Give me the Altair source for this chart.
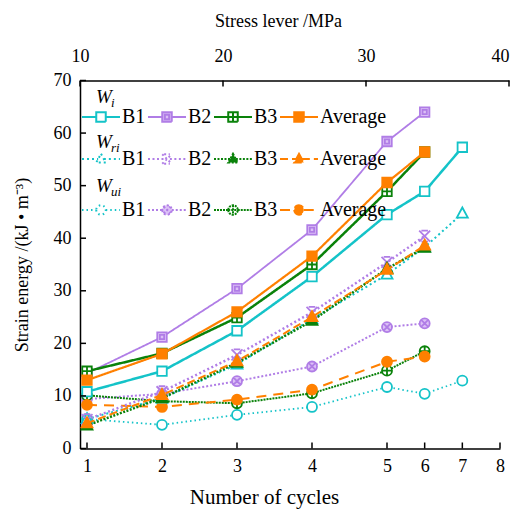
import altair as alt
import pandas as pd

# ---------------- data ----------------
cycles = [1, 2, 3, 4, 5, 6, 7]
series_names = ["B1", "B2", "B3", "Average"]

wi_b1 = [10.8, 14.7, 22.4, 32.7, 44.5, 48.9, 57.3]
wi_b2 = [14.3, 21.2, 30.4, 41.6, 58.4, 64.0]
wi_b3 = [14.7, 18.1, 24.9, 35.0, 48.9, 56.4]
wi_avg = [13.0, 18.0, 26.0, 36.6, 50.6, 56.4]

wri_b1 = [5.6, 9.5, 16.0, 24.6, 33.1, 38.3, 44.7]
wri_b2 = [5.5, 10.8, 17.8, 25.9, 35.4, 40.4]
wri_b3 = [4.4, 9.6, 16.3, 24.3, 34.2, 38.2]
wri_avg = [4.8, 10.2, 16.6, 25.0, 34.0, 38.6]

wui_b1 = [5.6, 4.5, 6.4, 7.9, 11.7, 10.4, 12.9]
wui_b2 = [9.4, 10.4, 12.8, 15.6, 23.1, 23.8]
wui_b3 = [10.1, 9.0, 8.6, 10.5, 14.8, 18.5]
wui_avg = [8.3, 7.9, 9.3, 11.2, 16.5, 17.5]

y_ticks = [0, 10, 20, 30, 40, 50, 60, 70]
x_ticks = [1, 2, 3, 4, 5, 6, 7, 8]
stress_ticks = [10, 20, 30, 40]

heading_main = ["W", "W", "W"]
heading_sub = ["i", "ri", "ui"]

# ---------------- styles ----------------
SERIF = "Liberation Serif, Times New Roman, Times, serif"
CYAN, LAV, GREEN, ORANGE = "#14C3C8", "#B07DE6", "#0A820A", "#FF8000"
LAV_LIGHT = "#DCC0F6"
colors = [CYAN, LAV, GREEN, ORANGE]


def n(v):
    return f"{round(v, 3):g}"


def sq(r):
    return f"M{n(-r)},{n(-r)}H{n(r)}V{n(r)}H{n(-r)}Z"


def plus(r):
    return f"M0,{n(-r)}V{n(r)}M{n(-r)},0H{n(r)}"


def cross(r):
    return f"M{n(-r)},{n(-r)}L{n(r)},{n(r)}M{n(-r)},{n(r)}L{n(r)},{n(-r)}"


def circ(r):
    return f"M{n(-r)},0A{n(r)},{n(r)} 0 1,0 {n(r)},0A{n(r)},{n(r)} 0 1,0 {n(-r)},0Z"


def tri(r):
    return f"M0,{n(-1.1 * r)}L{n(r)},{n(0.75 * r)}H{n(-r)}Z"


def xbar(r):
    return cross(r) + f"M{n(-0.6 * r)},{n(-r)}H{n(0.6 * r)}M{n(-0.6 * r)},{n(r)}H{n(0.6 * r)}"


markers = {
    "Wi": [lambda r: sq(r), lambda r: sq(r) + sq(0.45 * r), lambda r: sq(r) + plus(r), lambda r: sq(r)],
    "Wri": [lambda r: tri(r), lambda r: xbar(r), lambda r: tri(r), lambda r: tri(r)],
    "Wui": [lambda r: circ(r), lambda r: circ(r) + cross(0.7 * r), lambda r: circ(r) + plus(r), lambda r: circ(r)],
}
gaps = {"Wi": 1.0, "Wri": 0.6, "Wui": 1.0}
fills = {
    "Wi": ["white", LAV_LIGHT, "white", ORANGE],
    "Wri": ["white", LAV, GREEN, ORANGE],
    "Wui": ["white", LAV_LIGHT, "white", ORANGE],
}
dashes = {
    "Wi": [[1, 0], [1, 0], [1, 0], [1, 0]],
    "Wri": [[2, 3], [2, 2.5], [2, 1.5], [8, 4]],
    "Wui": [[1.5, 3], [2, 2], [2, 1], [10, 7]],
}
widths = {
    "Wi": [2.5, 1.8, 2.5, 2.2],
    "Wri": [2, 2.5, 2.5, 2],
    "Wui": [1.8, 2, 2, 2],
}
sizes = {"Wi": 90, "Wri": 120, "Wui": 100}

group_data = {
    "Wi": [wi_b1, wi_b2, wi_b3, wi_avg],
    "Wri": [wri_b1, wri_b2, wri_b3, wri_avg],
    "Wui": [wui_b1, wui_b2, wui_b3, wui_avg],
}
legend_y = {"Wi": 16.5, "Wri": 58.5, "Wui": 109.5}
heading_y = [22.5, 67.5, 111.5]

rows = []
for g, lists in group_data.items():
    for s, vals in zip(series_names, lists):
        for c, v in zip(cycles, vals):
            rows.append({"key": f"{g}|{s}", "cycle": c, "energy": v})
df = pd.DataFrame(rows)

W, H = 429, 368

xs = alt.Scale(domain=[0.9067, 5, 8], range=[0, 307, 420], nice=False, zero=False)
ys = alt.Scale(domain=[0, 70], nice=False, zero=False)

x_axis = alt.Axis(values=x_ticks, format="d", title="Number of cycles", labelPadding=9,
                  titlePadding=11, titleFontSize=21, titleX=184, titleAnchor="middle",
                  labelFlush=False, labelOverlap=False)
y_axis = alt.Axis(values=y_ticks, format="d", title="Strain energy /(kJ \u2022 m\u207b\u00b3)",
                  labelPadding=9, titlePadding=22, labelFlush=False, labelOverlap=False)

x_enc = alt.X("cycle:Q", scale=xs, axis=x_axis)
y_enc = alt.Y("energy:Q", scale=ys, axis=y_axis)

layers = []
order = ["Wui", "Wri", "Wi"]
for g in order:
    for i, s in enumerate(series_names):
        key = f"{g}|{s}"
        base = alt.Chart(df).transform_filter(alt.datum.key == key)
        layers.append(
            base.mark_line(color=colors[i], strokeWidth=widths[g][i], strokeDash=dashes[g][i])
            .encode(x=x_enc, y=y_enc)
        )
        layers.append(
            base.mark_point(shape=markers[g][i](1), size=sizes[g], filled=True, fill=fills[g][i],
                            stroke=colors[i], strokeWidth=1.8, opacity=1)
            .encode(x=x_enc, y=y_enc)
        )

# inward ticks
ytick_df = pd.DataFrame({"energy": y_ticks})
layers.append(
    alt.Chart(ytick_df).mark_rule(color="black", strokeWidth=1.5)
    .encode(y=y_enc, x=alt.value(0), x2=alt.value(6))
)
xtick_df = pd.DataFrame({"cycle": x_ticks})
layers.append(
    alt.Chart(xtick_df).mark_rule(color="black", strokeWidth=1.5)
    .encode(x=x_enc, y=alt.value(H), y2=alt.value(H - 6))
)

# legend headings (W with subscript)
one = pd.DataFrame({"a": [0]})
for hm, hs, hy in zip(heading_main, heading_sub, heading_y):
    layers.append(
        alt.Chart(one).mark_text(text=hm, font=SERIF, fontSize=19, fontStyle="italic",
                                 align="left", baseline="alphabetic", color="black")
        .encode(x=alt.value(16), y=alt.value(hy))
    )
    layers.append(
        alt.Chart(one).mark_text(text=hs, font=SERIF, fontSize=13, fontStyle="italic",
                                 align="left", baseline="alphabetic", color="black")
        .encode(x=alt.value(31), y=alt.value(hy + 3.5))
    )

# legends (three independent legends, one per energy type)
LS = 1444
for g in ["Wi", "Wri", "Wui"]:
    r = 0.25
    paths = [f"M-1,0H{n(-gaps[g] * r)}M{n(gaps[g] * r)},0H1" + mk(r) for mk in markers[g]]
    lg = alt.Legend(
        title=None, orient="none", legendX=1, legendY=legend_y[g],
        direction="horizontal", columns=4, columnPadding=-2, rowPadding=0,
        labelOffset=1, symbolSize=LS, symbolStrokeWidth=2, padding=0,
        labelFont=SERIF, labelFontSize=20, labelColor="black", labelLimit=0,
    )
    ldf = pd.DataFrame({"series": series_names})
    layers.append(
        alt.Chart(ldf).transform_filter("false")
        .mark_point(size=LS, filled=True, strokeWidth=2, opacity=1)
        .encode(
            shape=alt.Shape("series:N", scale=alt.Scale(domain=series_names, range=paths), legend=lg),
            stroke=alt.Stroke("series:N", scale=alt.Scale(domain=series_names, range=colors), legend=lg),
            fill=alt.Fill("series:N", scale=alt.Scale(domain=series_names, range=fills[g]), legend=lg),
            strokeDash=alt.StrokeDash("series:N", scale=alt.Scale(domain=series_names, range=dashes[g]), legend=lg),
        )
    )

main = alt.layer(*layers).resolve_scale(
    shape="independent", stroke="independent", fill="independent", strokeDash="independent"
)

# top (stress level) axis
stress_df = pd.DataFrame({"stress": stress_ticks})
top = alt.Chart(stress_df).mark_rule(color="black", strokeWidth=1.5).encode(
    x=alt.X("stress:Q", scale=alt.Scale(domain=[10, 40], nice=False, zero=False),
            axis=alt.Axis(orient="top", values=stress_ticks, format="d", title="Stress lever /MPa",
                          labelPadding=15, titlePadding=17, titleX=198, titleAnchor="middle",
                          labelFlush=False, labelOverlap=False,
                          labelAlign={"condition": {"test": "datum.value === 40", "value": "right"},
                                      "value": "center"})),
    y=alt.value(0), y2=alt.value(6),
)

chart = (
    alt.layer(main, top)
    .resolve_scale(x="independent")
    .properties(width=W, height=H, padding={"left": 80, "top": 80.5, "right": 8, "bottom": 61.5},
                autosize=alt.AutoSizeParams(type="none"))
    .configure_view(stroke=None)
    .configure_axis(
        labelFont=SERIF, titleFont=SERIF, labelFontSize=18, titleFontSize=18,
        titleFontWeight="normal", labelColor="black", titleColor="black",
        domainColor="black", domainWidth=1.5, ticks=False, tickSize=0, grid=False,
    )
)

chart.save("out.html", embed_options={"renderer": "svg", "actions": False})
